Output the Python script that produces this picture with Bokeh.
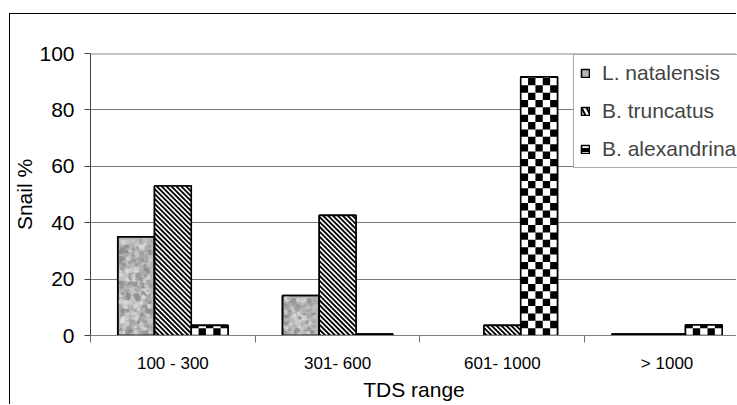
import numpy as np
from bokeh.plotting import figure
from bokeh.models import (ColumnDataSource, Range1d, FixedTicker, Span, Legend, LegendItem)
from bokeh.embed import file_html
from bokeh.resources import INLINE

# ---- data ----
categories = ["100 - 300", "301- 600", "601- 1000", "> 1000"]
series_names = ["L. natalensis", "B. truncatus", "B. alexandrina"]
l_natalensis = [35.0, 14.2, 0.0, 0.5]
b_truncatus = [53.0, 42.6, 3.6, 0.5]
b_alexandrina = [3.6, 0.5, 91.7, 3.7]
y_ticks = [0, 20, 40, 60, 80, 100]

FONT = "Liberation Sans"

# ---- layout constants (pixels) ----
W, H = 727, 391
LEFT, TOP, BOTTOM = 79, 39, 70
CAT_PX = 165.0
PX_X = CAT_PX                           # px per category unit
PX_Y = (H - TOP - BOTTOM) / 100.0       # px per percent

p = figure(width=W, height=H, output_backend="svg", toolbar_location=None,
           x_range=Range1d(0, (W - LEFT) / CAT_PX), y_range=Range1d(0, 100),
           min_border_left=LEFT, min_border_right=0, min_border_top=TOP,
           min_border_bottom=BOTTOM)
p.outline_line_color = None
p.background_fill_color = "white"
p.border_fill_color = "white"
p.styles = {"margin-left": "9px", "margin-top": "13px",
            "border-left": "1px solid black", "border-top": "1px solid black"}

bar_w = 0.223
offsets = [-bar_w, 0.0, bar_w]
n = len(categories)
all_vals = [l_natalensis, b_truncatus, b_alexandrina]
xs_by_series = [[i + 0.5 + off for i in range(n)] for off in offsets]

# ---- grid ----
p.xgrid.visible = False
p.ygrid.grid_line_color = "#7a7a7a"
p.ygrid.grid_line_width = 1
p.ygrid.ticker = FixedTicker(ticks=y_ticks)

# ---- base bars (also used as legend swatches) ----
base_styles = [
    dict(fill_color="#b6b6b6"),
    dict(fill_color="black", hatch_pattern="left_diagonal_line", hatch_color="white",
         hatch_scale=10, hatch_weight=2.5),
    dict(fill_color="white", hatch_pattern="horizontal_line", hatch_color="black",
         hatch_scale=10, hatch_weight=4),
]
base_renderers = []
for vals, xs, st in zip(all_vals, xs_by_series, base_styles):
    src = ColumnDataSource(dict(x=xs, top=vals, la=[1.0 if v > 0 else 0.0 for v in vals]))
    r = p.vbar(x="x", top="top", width=bar_w, source=src, line_color="black",
               line_width=1.6, line_alpha="la", **st)
    base_renderers.append(r)

# white cover for the patterned series
for vals, xs in zip(all_vals[1:], xs_by_series[1:]):
    p.vbar(x=xs, top=vals, width=bar_w, fill_color="white", line_color=None)


def h(k, seed):
    """deterministic hash in [0, 1) used for the mottled texture"""
    v = np.sin(k * 12.9898 + seed * 78.233) * 43758.5453
    return v - np.floor(v)


# ---- L. natalensis: granite mottling (deterministic texture) ----
gx, gy, gs, gc = [], [], [], []
palette = ["#7e7e7e", "#d9d9d9", "#959595", "#e6e6e6", "#8a8a8a", "#c9c9c9", "#a3a3a3"]
k = 0
for xc, top in zip(xs_by_series[0], l_natalensis):
    if top <= 0:
        continue
    x0 = (xc - bar_w / 2) * PX_X + 3
    x1 = (xc + bar_w / 2) * PX_X - 3
    y1 = top * PX_Y - 3
    for yy in np.arange(3, y1, 3.6):
        for xx in np.arange(x0, x1, 3.6):
            k += 1
            px = min(max(xx + (h(k, 1) - 0.5) * 4.0, x0), x1)
            py = min(max(yy + (h(k, 2) - 0.5) * 4.0, 3), y1)
            gx.append(px / PX_X)
            gy.append(py / PX_Y)
            gs.append(2.5 + 3.5 * h(k, 3))
            gc.append(palette[int(h(k, 4) * len(palette))])
p.scatter(x=gx, y=gy, size=gs, color=gc, marker="circle", line_color=None, alpha=0.6)

# ---- B. truncatus: diagonal stripes ----
sx, sy = [], []
P = 4.9
for xc, top in zip(xs_by_series[1], b_truncatus):
    if top <= 0:
        continue
    x0 = (xc - bar_w / 2) * PX_X
    x1 = (xc + bar_w / 2) * PX_X
    y0, y1 = 0.0, top * PX_Y
    for c in np.arange(np.floor((x0 + y0) / P) * P, x1 + y1 + P, P):
        lo = max(x0, c - y1)
        hi = min(x1, c - y0)
        if hi - lo > 0.3:
            sx.append([lo / PX_X, hi / PX_X])
            sy.append([(c - lo) / PX_Y, (c - hi) / PX_Y])
p.multi_line(xs=sx, ys=sy, line_color="black", line_width=1.8, line_cap="butt")

# ---- B. alexandrina: checkerboard ----
cl, cr, cb, ct = [], [], [], []
ncols = 5
cw = bar_w / ncols
ch = (bar_w * PX_X / ncols) / PX_Y
for xc, top in zip(xs_by_series[2], b_alexandrina):
    if top <= 0:
        continue
    nrows = int(np.ceil(top / ch))
    for r in range(nrows):
        b = r * ch
        t = min((r + 1) * ch, top)
        for c in range(ncols):
            if (r + c) % 2 == 1:
                left = xc - bar_w / 2 + c * cw
                cl.append(left)
                cr.append(left + cw)
                cb.append(b)
                ct.append(t)
p.quad(left=cl, right=cr, bottom=cb, top=ct, fill_color="black", line_color=None)

# ---- bar outlines on top ----
for vals, xs in zip(all_vals, xs_by_series):
    src = ColumnDataSource(dict(x=xs, top=vals, la=[1.0 if v > 0 else 0.0 for v in vals]))
    p.vbar(x="x", top="top", width=bar_w, source=src, fill_color=None,
           line_color="black", line_width=1.6, line_alpha="la")

# top border of plot area
p.add_layout(Span(location=100, dimension="width", line_color="#8a8a8a", line_width=2))

# ---- legend ----
legend = Legend(items=[LegendItem(label=name, renderers=[r], index=0)
                       for name, r in zip(series_names, base_renderers)])
legend.location = (483, 167)
legend.padding = 6
legend.spacing = 14
legend.margin = 0
legend.label_standoff = 12
legend.glyph_width = 10
legend.glyph_height = 10
legend.label_height = 24
legend.label_text_font = FONT
legend.label_text_font_size = "21px"
legend.border_line_color = "#555555"
legend.border_line_width = 1
legend.background_fill_alpha = 1.0
p.add_layout(legend)

# ---- y axis ----
ya = p.yaxis[0]
ya.ticker = FixedTicker(ticks=y_ticks)
ya.minor_tick_line_color = None
ya.major_tick_out = 6
ya.major_tick_in = 0
ya.major_tick_line_color = "#404040"
ya.axis_line_color = "#404040"
ya.major_label_standoff = 10
ya.major_label_text_font = FONT
ya.major_label_text_font_size = "21px"
ya.major_label_text_color = "black"
ya.axis_label = "Snail %"
ya.axis_label_text_font = FONT
ya.axis_label_text_font_size = "21px"
ya.axis_label_text_font_style = "normal"
ya.axis_label_text_color = "black"
ya.axis_label_standoff = 0

# ---- x axis ----
xa = p.xaxis[0]
centers = [i + 0.5 for i in range(n)]
xa.ticker = FixedTicker(ticks=centers, minor_ticks=list(range(n)))
xa.major_label_overrides = {c: lab for c, lab in zip(centers, categories)}
xa.major_tick_out = 0
xa.major_tick_in = 0
xa.minor_tick_out = 7
xa.minor_tick_in = 0
xa.minor_tick_line_color = "#707070"
xa.axis_line_color = "#808080"
xa.major_label_standoff = 11
xa.major_label_text_font = FONT
xa.major_label_text_font_size = "17px"
xa.major_label_text_color = "black"
xa.axis_label = "TDS range"
xa.axis_label_text_font = FONT
xa.axis_label_text_font_size = "21px"
xa.axis_label_text_font_style = "normal"
xa.axis_label_text_color = "black"
xa.axis_label_standoff = 2

open("out.html", "w").write(file_html(p, INLINE))
